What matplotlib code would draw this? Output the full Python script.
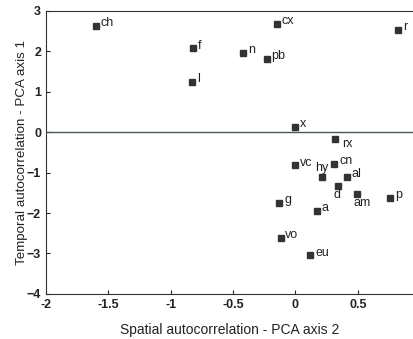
import matplotlib
matplotlib.use('Agg')
import matplotlib.pyplot as plt

plt.rcParams['font.family'] = ['Liberation Sans', 'DejaVu Sans']

# Codes des sites et coordonnées PCA (axe 2 = spatial, axe 1 = temporel)
labels = ['ch', 'f', 'l', 'cx', 'r', 'n', 'pb', 'x', 'rx', 'vc', 'cn', 'hy',
          'al', 'd', 'am', 'p', 'g', 'a', 'vo', 'eu']
spatial = [-1.60, -0.82, -0.83, -0.15, 0.82, -0.42, -0.23, 0.0, 0.32, 0.0,
           0.31, 0.21, 0.41, 0.34, 0.49, 0.76, -0.13, 0.17, -0.12, 0.12]
temporal = [2.63, 2.07, 1.25, 2.68, 2.53, 1.96, 1.82, 0.14, -0.18, -0.82,
            -0.79, -1.10, -1.11, -1.32, -1.52, -1.63, -1.75, -1.95, -2.62, -3.05]

xticks = [-2, -1.5, -1, -0.5, 0, 0.5]
xticklabels = ['-2', '-1.5', '-1', '-0.5', '0', '0.5']
yticks = [-4, -3, -2, -1, 0, 1, 2, 3]

# décalage des étiquettes (en points) et alignement horizontal
offsets = {'hy': (0, 6, 'center'), 'd': (-1, -7, 'center'),
           'am': (4, -7, 'center'), 'rx': (5, -3, 'left')}

fig = plt.figure(figsize=(4.14, 3.39), dpi=100)
ax = fig.add_axes([0.111, 0.133, 0.889, 0.835])

ax.plot(spatial, temporal, 's', color='#333333', markersize=3.8, zorder=3)
for lab, xv, yv in zip(labels, spatial, temporal):
    dx, dy, ha = offsets.get(lab, (3.5, 2, 'left'))
    ax.annotate(lab, (xv, yv), xytext=(dx, dy), textcoords='offset points',
                fontsize=9, color='#222222', va='center', ha=ha)

ax.axhline(0, color='#4a5a4a', lw=1.0)

ax.set_xlim(-2, 0.95)
ax.set_ylim(-4, 3)
ax.set_xticks(xticks)
ax.set_xticklabels(xticklabels)
ax.set_yticks(yticks)
ax.tick_params(direction='in', length=3, labelsize=9, colors='#222222')
for t in ax.get_xticklabels() + ax.get_yticklabels():
    t.set_fontweight('bold')
ax.spines['right'].set_visible(False)
for s in ['left', 'bottom', 'top']:
    ax.spines[s].set_color('#333333')

ax.set_xlabel('Spatial autocorrelation - PCA axis 2', fontsize=10, color='#222222', labelpad=9)
ax.set_ylabel('Temporal autocorrelation - PCA axis 1', fontsize=9.6, color='#222222', labelpad=-1)

fig.savefig('out.png', dpi=100)
